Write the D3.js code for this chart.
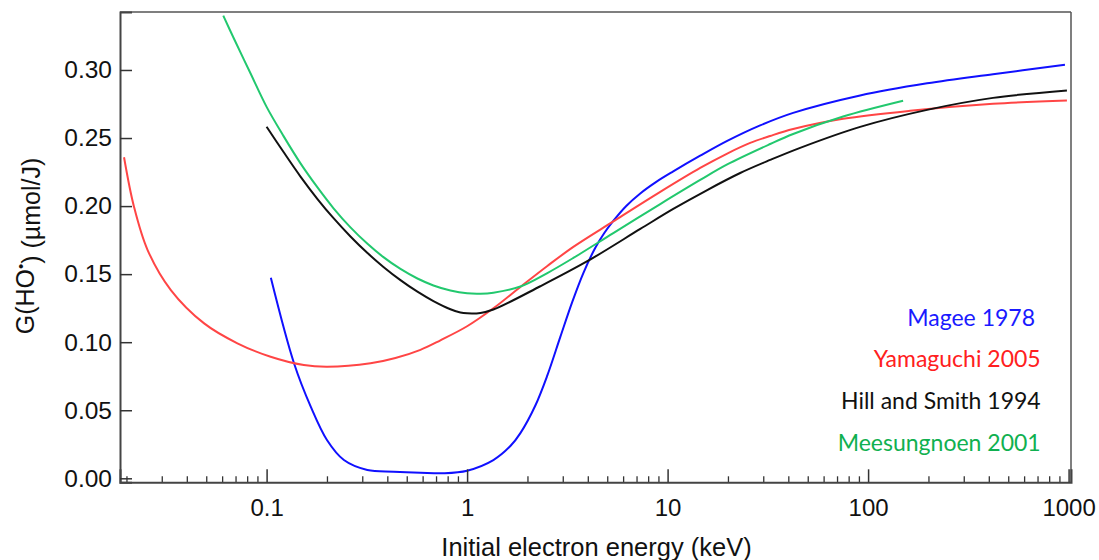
<!DOCTYPE html>
<html>
<head>
<meta charset="utf-8">
<script src="https://cdn.jsdelivr.net/npm/d3@7"></script>
<style>
  html, body { margin: 0; padding: 0; background: #fff; }
  svg { display: block; }
</style>
</head>
<body>
<svg id="chart" width="1099" height="560"></svg>
<script>
// ---- Data (energy in keV, G in µmol/J) ----
const mageeE = [0.105, 0.137, 0.166, 0.2, 0.243, 0.318, 0.43, 0.585, 0.764, 1.0, 1.352, 1.644, 1.844, 2.19, 2.513, 2.917, 3.35, 3.80, 4.36, 4.834, 5.36, 6.22, 7.306, 8.78, 10.67, 14.54, 19.83, 28.95, 42.29, 91.25, 196.9, 419.8, 959];
const mageeG = [0.1473, 0.0845, 0.0526, 0.0281, 0.0134, 0.0061, 0.0049, 0.0041, 0.0037, 0.0056, 0.0134, 0.0237, 0.0332, 0.0535, 0.0756, 0.1039, 0.1298, 0.1508, 0.1694, 0.1802, 0.1891, 0.2001, 0.2093, 0.2178, 0.2255, 0.2370, 0.2479, 0.2593, 0.2685, 0.2813, 0.2902, 0.2969, 0.3038];

const yamaE = [0.01945, 0.0218, 0.0255, 0.0333, 0.0488, 0.0715, 0.1047, 0.1533, 0.2006, 0.3298, 0.439, 0.585, 0.736, 1.0, 1.352, 1.844, 2.513, 3.387, 5.36, 9.19, 14.54, 19.83, 25.82, 32.48, 42.29, 75.06, 161.9, 419.8, 981];
const yamaG = [0.2359, 0.1996, 0.1677, 0.1383, 0.1138, 0.0992, 0.0893, 0.0832, 0.0820, 0.0845, 0.0884, 0.0944, 0.1014, 0.1117, 0.1249, 0.1406, 0.1560, 0.1700, 0.1887, 0.2104, 0.2280, 0.2386, 0.2464, 0.2515, 0.2566, 0.2641, 0.2700, 0.2751, 0.2776];

const hillE = [0.1, 0.1215, 0.1476, 0.1794, 0.2157, 0.262, 0.3185, 0.3826, 0.4652, 0.5652, 0.6793, 0.8257, 0.9259, 1.0, 1.165, 1.352, 2.319, 3.977, 7.306, 10.67, 15.76, 23.02, 32.48, 45.83, 91.25, 196.9, 419.8, 981];
const hillG = [0.2583, 0.2397, 0.2217, 0.2052, 0.1911, 0.1777, 0.1655, 0.1553, 0.1456, 0.1371, 0.1302, 0.1242, 0.1218, 0.1212, 0.1215, 0.1240, 0.1411, 0.1595, 0.1832, 0.1979, 0.2118, 0.2243, 0.2339, 0.2428, 0.2582, 0.2707, 0.2795, 0.2850];

const meesE = [0.0608, 0.0684, 0.0832, 0.1, 0.1215, 0.1476, 0.1794, 0.2157, 0.262, 0.3185, 0.3826, 0.4652, 0.5652, 0.6793, 0.8257, 1.0, 1.165, 1.352, 1.844, 2.513, 3.387, 5.36, 9.19, 14.54, 19.83, 32.48, 42.29, 75.06, 149.5];
const meesG = [0.3399, 0.3237, 0.2974, 0.2729, 0.2514, 0.2314, 0.2137, 0.1984, 0.1844, 0.1723, 0.1625, 0.1538, 0.1468, 0.1417, 0.1380, 0.1359, 0.1356, 0.1364, 0.1409, 0.1508, 0.1619, 0.1802, 0.2015, 0.2192, 0.2306, 0.2456, 0.2530, 0.2658, 0.2774];

const seriesNames = ["Magee 1978", "Yamaguchi 2005", "Hill and Smith 1994", "Meesungnoen 2001"];
const xMajorTicks = [0.1, 1, 10, 100, 1000];
const xMajorLabels = ["0.1", "1", "10", "100", "1000"];
const yTicks = [0.00, 0.05, 0.10, 0.15, 0.20, 0.25, 0.30];
const yTickLabels = ["0.00", "0.05", "0.10", "0.15", "0.20", "0.25", "0.30"];
const xTitle = "Initial electron energy (keV)";

// ---- Layout ----
const svg = d3.select("#chart");
const L = 120, R = 1071, T = 12, B = 482.3;

const x = d3.scaleLog().domain([0.01857, 1028]).range([L, R]);
const y = d3.scaleLinear().domain([-0.00294, 0.3426]).range([B, T]);

const lineColors = ["#1010ff", "#ff4545", "#111111", "#22c86e"];
const legendColors = ["#1a1aff", "#ff2020", "#111111", "#10b050"];

const series = [
  {name: seriesNames[0], E: mageeE, G: mageeG},
  {name: seriesNames[1], E: yamaE, G: yamaG},
  {name: seriesNames[2], E: hillE, G: hillG},
  {name: seriesNames[3], E: meesE, G: meesG}
];

// minor ticks
const minorTicks = [];
[0.01, 0.1, 1, 10, 100].forEach(d => {
  for (let k = 2; k <= 9; k++) {
    const v = d * k;
    if (v >= x.domain()[0] && v <= x.domain()[1]) minorTicks.push(v);
  }
});

const fontTick = "'Liberation Sans', Arial, sans-serif";

// frame top/right
svg.append("line").attr("x1", L).attr("x2", R).attr("y1", T).attr("y2", T)
  .attr("stroke", "#555").attr("stroke-width", 1.5);
svg.append("line").attr("x1", R).attr("x2", R).attr("y1", T).attr("y2", B)
  .attr("stroke", "#555").attr("stroke-width", 1.5);

// curves
const line = d3.line()
  .x(d => x(d[0]))
  .y(d => y(d[1]))
  .curve(d3.curveCatmullRom.alpha(0.5));

const plot = svg.append("g");
series.forEach((s, i) => {
  const pts = s.E.map((e, j) => [e, s.G[j]]);
  plot.append("path")
    .attr("d", line(pts))
    .attr("fill", "none")
    .attr("stroke", lineColors[i])
    .attr("stroke-width", 2);
});

// x minor axis
svg.append("g")
  .attr("transform", `translate(0,${B})`)
  .call(d3.axisBottom(x).tickValues(minorTicks).tickSize(-6).tickFormat(""))
  .call(g => g.select(".domain").remove())
  .call(g => g.selectAll(".tick line").attr("stroke", "#333").attr("stroke-width", 1.3));

// x major axis
svg.append("g")
  .attr("transform", `translate(0,${B})`)
  .call(d3.axisBottom(x).tickValues(xMajorTicks).tickSize(-13).tickPadding(17)
        .tickFormat((d, i) => xMajorLabels[i]))
  .call(g => g.select(".domain").attr("stroke", "#444").attr("stroke-width", 2))
  .call(g => g.selectAll(".tick line").attr("stroke", "#333").attr("stroke-width", 1.5))
  .call(g => g.selectAll(".tick text").attr("fill", "#111")
        .style("font-family", fontTick).style("font-size", "24px"));

// y axis
svg.append("g")
  .attr("transform", `translate(${L},0)`)
  .call(d3.axisLeft(y).tickValues(yTicks).tickSize(-12).tickPadding(8)
        .tickFormat((d, i) => yTickLabels[i]))
  .call(g => g.select(".domain").attr("stroke", "#444").attr("stroke-width", 2))
  .call(g => g.selectAll(".tick line").attr("stroke", "#333").attr("stroke-width", 1.5))
  .call(g => g.selectAll(".tick text").attr("fill", "#111")
        .style("font-family", fontTick).style("font-size", "24.5px"));

// x title
svg.append("text")
  .attr("x", (L + R) / 2 + 1).attr("y", 556)
  .attr("text-anchor", "middle")
  .style("font-family", fontTick).style("font-size", "25.5px").attr("fill", "#111")
  .text(xTitle);

// y title
const yt = svg.append("text")
  .attr("transform", "translate(34,246) rotate(-90)")
  .attr("text-anchor", "middle")
  .style("font-family", fontTick).style("font-size", "25px").attr("fill", "#111");
yt.append("tspan").text("G(HO");
yt.append("tspan").attr("dy", "-0.55em").style("font-size", "15px").text("•");
yt.append("tspan").attr("dy", "0.55em").text(") (µmol/J)");

// legend
const legendY = [326, 367, 409, 450.7];
const legendX = [1035, 1040.7, 1040.7, 1040.7];
series.forEach((s, i) => {
  svg.append("text")
    .attr("x", legendX[i]).attr("y", legendY[i])
    .attr("text-anchor", "end")
    .style("font-family", "Lato, 'Open Sans', sans-serif")
    .style("font-size", "23px")
    .attr("fill", legendColors[i])
    .text(s.name);
});
</script>
</body>
</html>
